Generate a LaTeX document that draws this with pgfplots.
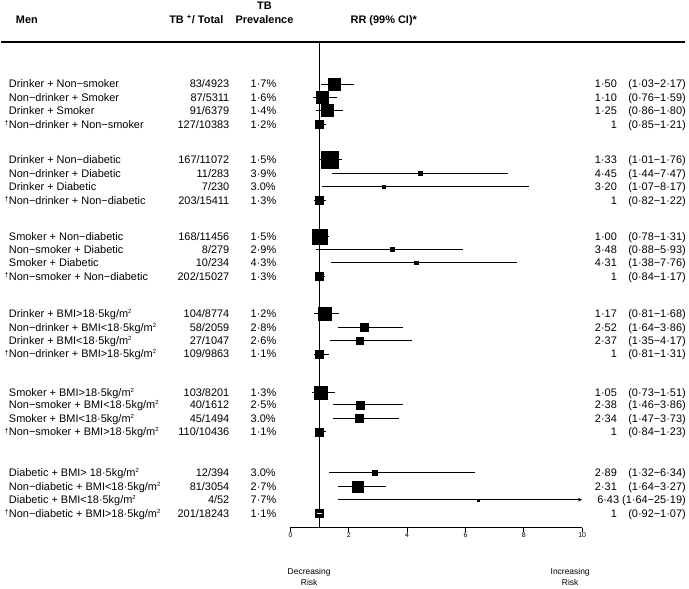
\documentclass[border=0pt]{standalone}
\usepackage{pgfplots}
\pgfplotsset{compat=1.18}
\usepackage{pgfplotstable}
\usepackage{fontspec}
\setmainfont{Liberation Sans}
\usetikzlibrary{arrows.meta}

% y = -pixel row position, rr, lo, hi, ms = half side of square (bp)
\pgfplotstableread{
y      rr   lo   hi   ms
-84    1.50 1.03 2.17 6
-97.3  1.10 0.76 1.59 6
-110.7 1.25 0.86 1.80 6
-124.3 1    0.85 1.21 4
-160   1.33 1.01 1.76 8.5
-173.7 4.45 1.44 7.47 1.8
-187   3.20 1.07 8.17 1.8
-200.7 1    0.82 1.22 4
-236.7 1.00 0.78 1.31 7.5
-249.7 3.48 0.88 5.93 2
-263   4.31 1.38 7.76 1.8
-276.7 1    0.84 1.17 4
-314   1.17 0.81 1.68 6.5
-327.7 2.52 1.64 3.86 4
-341   2.37 1.35 4.17 3.3
-354.3 1    0.81 1.31 4
-392.7 1.05 0.73 1.51 6.5
-405.3 2.38 1.46 3.86 4
-419   2.34 1.47 3.73 4
-432.3 1    0.84 1.23 4
-473.3 2.89 1.32 6.34 2.2
-487   2.31 1.64 3.27 5.5
-500.3 6.43 6.43 6.43 1
-514   1    0.92 1.07 4
}\forestdata

\newcommand\R[6]{%
  \node[t,anchor=base west] at (axis cs:-9.6575,#1) {#2};
  \node[t,anchor=base east] at (axis cs:-2.089,#1) {#3};
  \node[t,anchor=base west] at (axis cs:-1.3699,#1) {#4};
  \node[t,anchor=base east] at (axis cs:11.1986,#1) {#5};
  \node[t,anchor=base east] at (axis cs:13.5616,#1) {#6};
}
\newcommand\dg[1]{\node[inner sep=0pt,anchor=east,font=\fontsize{7}{8}\selectfont] at (axis cs:-9.6575,#1+1) {†};}
\newcommand\m{kg/m\textsuperscript{\fontsize{6}{6}\selectfont 2}}

\begin{document}
\begin{tikzpicture}[font=\fontsize{11}{13}\selectfont, t/.style={inner sep=0pt, yshift=-3.9bp}]
\begin{axis}[
  x=29.2bp, y=1bp,
  xmin=0, xmax=10, ymin=-528.3, ymax=-42,
  enlargelimits=false,
  axis x line*=bottom, axis y line=none,
  clip=false,
  xtick={0,2,4,6,8,10},
  tick align=outside,
  major tick length=4bp,
  xtick style={black, line width=0.6pt},
  x axis line style={black, line width=0.7pt},
  xticklabel style={font=\fontsize{7}{8}\selectfont, inner sep=1pt},
  /pgf/number format/assume math mode=true,
]
% bounding frame (invisible)
\path (axis cs:-9.9315,0) rectangle (axis cs:13.6644,-589);

% header rule
\draw[black, line width=1.6bp] (axis cs:-9.9315,-42) -- (axis cs:13.53,-42);

% reference line at RR = 1
\addplot[black, line width=0.7pt] coordinates {(1,-42) (1,-528.3)};

% estimates with 99% CI
\addplot[scatter, only marks, mark=square*,
  scatter/use mapped color={draw=black, fill=black},
  point meta=\thisrow{ms},
  visualization depends on={\thisrow{ms} \as \msz},
  scatter/@pre marker code/.append style={/tikz/mark size=\msz bp},
  error bars/.cd, x dir=both, x explicit, error mark=none,
  error bar style={black, line width=0.7pt}]
  table[x=rr, y=y,
        x error plus expr=\thisrow{hi}-\thisrow{rr},
        x error minus expr=\thisrow{rr}-\thisrow{lo}] {\forestdata};

% truncated CI (1.64-25.19) with arrow
\addplot[black, line width=0.7pt, -{Stealth[length=4bp,width=3.5bp]}] coordinates {(1.64,-500.3) (10,-500.3)};
% white CI dash inside last reference square
\addplot[only marks, mark=-, mark size=2.3bp, mark options={white, line width=1.1pt}] coordinates {(1,-514)};

% headers
\node[t,anchor=base west,font=\fontsize{11}{13}\selectfont\bfseries] at (axis cs:-9.4178,-20) {Men};
\node[t,anchor=base east,font=\fontsize{11}{13}\selectfont\bfseries] at (axis cs:-2.295,-20) {TB \textsuperscript{+}/ Total};
\node[t,anchor=base,font=\fontsize{11}{13}\selectfont\bfseries] at (axis cs:-0.890,-5.5) {TB};
\node[t,anchor=base,font=\fontsize{11}{13}\selectfont\bfseries] at (axis cs:-0.890,-20) {Prevalence};
\node[t,anchor=base,font=\fontsize{11}{13}\selectfont\bfseries] at (axis cs:3.2,-20) {RR (99\% CI)*};

% rows
\R{-84}{Drinker + Non−smoker}{83/4923}{1·7\%}{1·50}{(1·03−2·17)}
\R{-97.3}{Non−drinker + Smoker}{87/5311}{1·6\%}{1·10}{(0·76−1·59)}
\R{-110.7}{Drinker + Smoker}{91/6379}{1·4\%}{1·25}{(0·86−1·80)}
\R{-124.3}{Non−drinker + Non−smoker}{127/10383}{1·2\%}{1}{(0·85−1·21)}
\dg{-124.3}
\R{-160}{Drinker + Non−diabetic}{167/11072}{1·5\%}{1·33}{(1·01−1·76)}
\R{-173.7}{Non−drinker + Diabetic}{11/283}{3·9\%}{4·45}{(1·44−7·47)}
\R{-187}{Drinker + Diabetic}{7/230}{3.0\%}{3·20}{(1·07−8·17)}
\R{-200.7}{Non−drinker + Non−diabetic}{203/15411}{1·3\%}{1}{(0·82−1·22)}
\dg{-200.7}
\R{-236.7}{Smoker + Non−diabetic}{168/11456}{1·5\%}{1·00}{(0·78−1·31)}
\R{-249.7}{Non−smoker + Diabetic}{8/279}{2·9\%}{3·48}{(0·88−5·93)}
\R{-263}{Smoker + Diabetic}{10/234}{4·3\%}{4·31}{(1·38−7·76)}
\R{-276.7}{Non−smoker + Non−diabetic}{202/15027}{1·3\%}{1}{(0·84−1·17)}
\dg{-276.7}
\R{-314}{Drinker + BMI>18·5\m}{104/8774}{1·2\%}{1·17}{(0·81−1·68)}
\R{-327.7}{Non−drinker + BMI<18·5\m}{58/2059}{2·8\%}{2·52}{(1·64−3·86)}
\R{-341}{Drinker + BMI<18·5\m}{27/1047}{2·6\%}{2·37}{(1·35−4·17)}
\R{-354.3}{Non−drinker + BMI>18·5\m}{109/9863}{1·1\%}{1}{(0·81−1·31)}
\dg{-354.3}
\R{-392.7}{Smoker + BMI>18·5\m}{103/8201}{1·3\%}{1·05}{(0·73−1·51)}
\R{-405.3}{Non−smoker + BMI<18·5\m}{40/1612}{2·5\%}{2·38}{(1·46−3·86)}
\R{-419}{Smoker + BMI<18·5\m}{45/1494}{3.0\%}{2·34}{(1·47−3·73)}
\R{-432.3}{Non−smoker + BMI>18·5\m}{110/10436}{1·1\%}{1}{(0·84−1·23)}
\dg{-432.3}
\R{-473.3}{Diabetic + BMI> 18·5\m}{12/394}{3.0\%}{2·89}{(1·32−6·34)}
\R{-487}{Non−diabetic + BMI<18·5\m}{81/3054}{2·7\%}{2·31}{(1·64−3·27)}
\R{-500.3}{Diabetic + BMI<18·5\m}{4/52}{7·7\%}{}{6·43 (1·64−25·19)}
\R{-514}{Non−diabetic + BMI>18·5\m}{201/18243}{1·1\%}{1}{(0·92−1·07)}
\dg{-514}

% direction labels
\node[align=center, inner sep=0pt, font=\fontsize{8.5}{11.3}\selectfont] at (axis cs:0.64,-577.5) {Decreasing\\Risk};
\node[align=center, inner sep=0pt, font=\fontsize{8.5}{11.3}\selectfont] at (axis cs:9.59,-577.5) {Increasing\\Risk};
\end{axis}
\end{tikzpicture}
\end{document}
